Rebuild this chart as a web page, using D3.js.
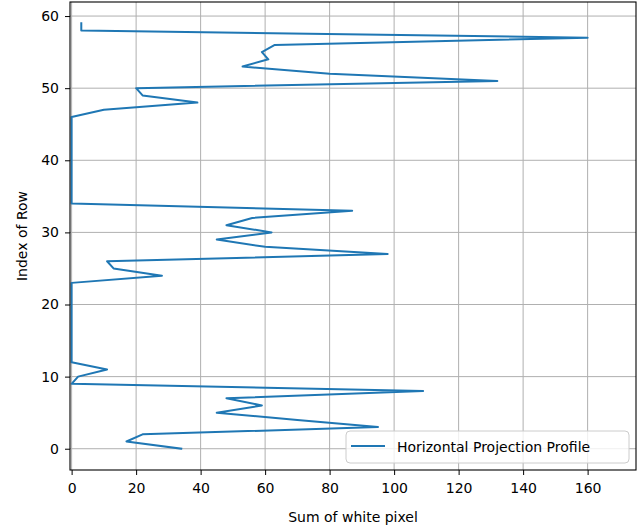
<!DOCTYPE html>
<html>
<head>
<meta charset="utf-8">
<script src="https://cdn.jsdelivr.net/npm/d3@7"></script>
<style>
  body { margin: 0; background: #fff; }
  svg { font-family: "DejaVu Sans", sans-serif; }
</style>
</head>
<body>
<div id="chart"></div>
<script>
// row index (y) and sum of white pixels in that row (x)
var rows = d3.range(0, 60);
var whiteSum = [
  34, 17, 22, 95, 70, 45, 59, 48, 109, 0,
  2, 11, 0, 0, 0, 0, 0, 0, 0, 0,
  0, 0, 0, 0, 28, 13, 11, 98, 60, 45,
  62, 48, 56, 87, 0, 0, 0, 0, 0, 0,
  0, 0, 0, 0, 0, 0, 0, 10, 39, 22,
  20, 132, 80, 53, 61, 59, 63, 160, 3, 3
];
var xTicks = [0, 20, 40, 60, 80, 100, 120, 140, 160];
var yTicks = [0, 10, 20, 30, 40, 50, 60];
var seriesName = "Horizontal Projection Profile";

var W = 640, H = 530,
    plotL = 70, plotR = 636, plotT = 2, plotB = 470;

var svg = d3.select("#chart").append("svg")
  .attr("width", W).attr("height", H);

var x = d3.scaleLinear().domain([-0.5, 175]).range([plotL, plotR]);
var y = d3.scaleLinear().domain([-2.95, 61.95]).range([plotB, plotT]);

// grid
svg.append("g").selectAll("line").data(xTicks).join("line")
  .attr("x1", d => x(d)).attr("x2", d => x(d))
  .attr("y1", plotT).attr("y2", plotB)
  .attr("stroke", "#b0b0b0").attr("stroke-width", 1);
svg.append("g").selectAll("line").data(yTicks).join("line")
  .attr("y1", d => y(d)).attr("y2", d => y(d))
  .attr("x1", plotL).attr("x2", plotR)
  .attr("stroke", "#b0b0b0").attr("stroke-width", 1);

// profile line
var line = d3.line()
  .x((d, i) => x(d))
  .y((d, i) => y(rows[i]));

svg.append("path")
  .datum(whiteSum)
  .attr("d", line)
  .attr("fill", "none")
  .attr("stroke", "#1f77b4")
  .attr("stroke-width", 2)
  .attr("stroke-linejoin", "round")
  .attr("stroke-linecap", "square");

// axes
var xAxis = svg.append("g")
  .attr("transform", "translate(0," + plotB + ")")
  .call(d3.axisBottom(x).tickValues(xTicks).tickSize(5).tickPadding(8));
var yAxis = svg.append("g")
  .attr("transform", "translate(" + plotL + ",0)")
  .call(d3.axisLeft(y).tickValues(yTicks).tickSize(5).tickPadding(6));

[xAxis, yAxis].forEach(function(g) {
  g.select(".domain").remove();
  g.selectAll("text").attr("font-size", 14).attr("fill", "#000")
    .attr("font-family", "DejaVu Sans, sans-serif");
  g.selectAll("line").attr("stroke", "#000").attr("stroke-width", 1);
});

// frame
svg.append("rect")
  .attr("x", plotL).attr("y", plotT)
  .attr("width", plotR - plotL).attr("height", plotB - plotT)
  .attr("fill", "none").attr("stroke", "#000").attr("stroke-width", 1.1);

// axis labels
svg.append("text")
  .attr("x", (plotL + plotR) / 2).attr("y", 522)
  .attr("text-anchor", "middle").attr("font-size", 14)
  .text("Sum of white pixel");
svg.append("text")
  .attr("transform", "translate(27," + ((plotT + plotB) / 2) + ") rotate(-90)")
  .attr("text-anchor", "middle").attr("font-size", 14)
  .text("Index of Row");

// legend
var lg = svg.append("g").attr("transform", "translate(346,431)");
lg.append("rect")
  .attr("width", 283).attr("height", 32).attr("rx", 4)
  .attr("fill", "#fff").attr("fill-opacity", 0.8)
  .attr("stroke", "#cccccc");
lg.append("line")
  .attr("x1", 5).attr("x2", 39).attr("y1", 15).attr("y2", 15)
  .attr("stroke", "#1f77b4").attr("stroke-width", 2);
lg.append("text")
  .attr("x", 51).attr("y", 21).attr("font-size", 14)
  .text(seriesName);
</script>
</body>
</html>
